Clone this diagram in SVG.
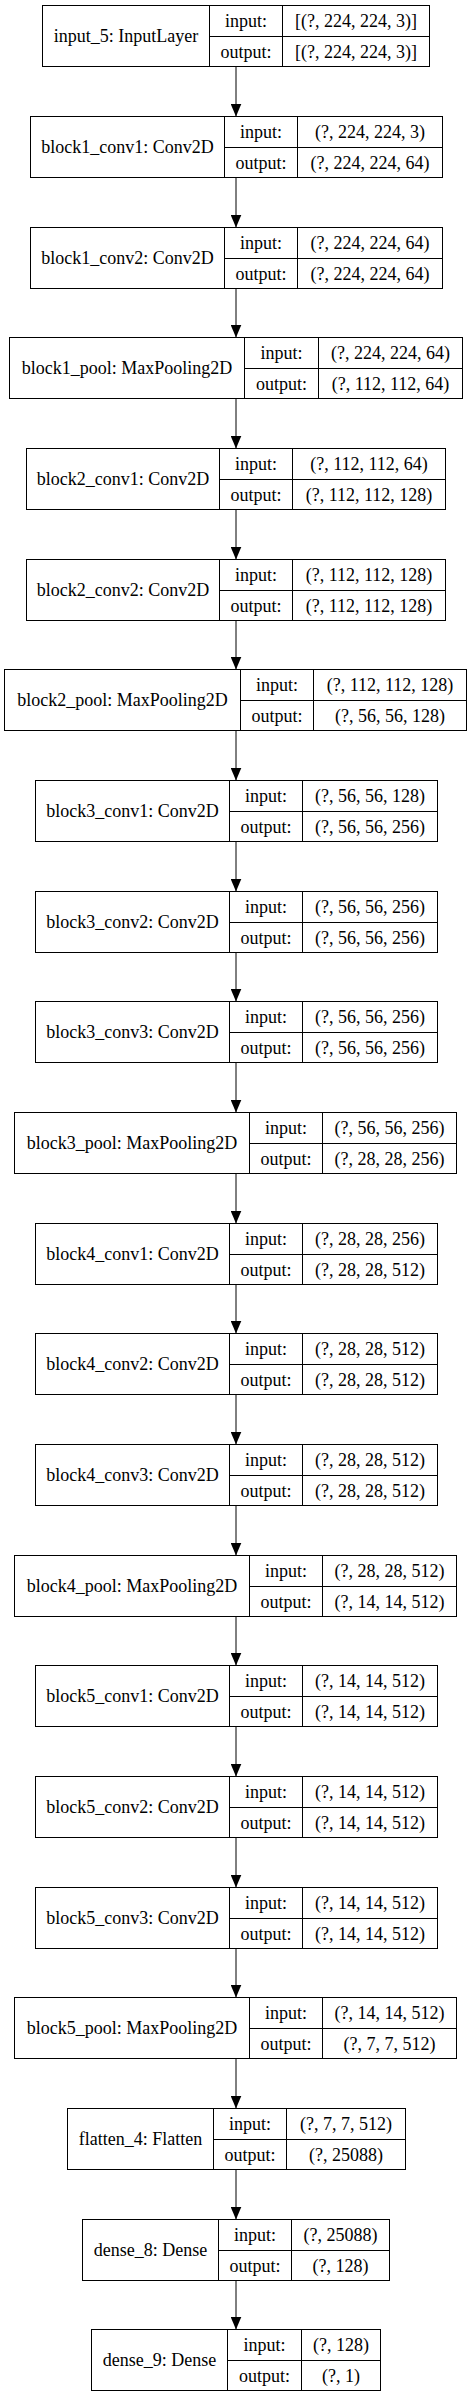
<svg xmlns="http://www.w3.org/2000/svg" width="472" height="2397" viewBox="0 0 472 2397">
<style>
.bx{fill:#fff;stroke:#000;stroke-width:1}
.ln{stroke:#000;stroke-width:1;fill:none}
text{font-family:"Liberation Serif","Times New Roman",serif;font-size:18px;fill:#000;text-anchor:middle}
.edge{stroke:#000;stroke-width:1;fill:none;marker-end:url(#ah)}
</style>
<defs>
<marker id="ah" markerUnits="userSpaceOnUse" markerWidth="13" markerHeight="11" viewBox="0 0 13 11" refX="13" refY="5.5" orient="auto">
<path d="M0,0 L13,5.5 L0,11 z" fill="#000"/>
</marker>
</defs>
<rect width="472" height="2397" fill="#fff"/>
<g id="connectors">
<line class="edge" x1="236" y1="66.5" x2="236" y2="116.5"/>
<line class="edge" x1="236" y1="177.5" x2="236" y2="227.5"/>
<line class="edge" x1="236" y1="288.5" x2="236" y2="337.5"/>
<line class="edge" x1="236" y1="398.5" x2="236" y2="448.5"/>
<line class="edge" x1="236" y1="509.5" x2="236" y2="559.5"/>
<line class="edge" x1="236" y1="620.5" x2="236" y2="669.5"/>
<line class="edge" x1="236" y1="730.5" x2="236" y2="780.5"/>
<line class="edge" x1="236" y1="841.5" x2="236" y2="891.5"/>
<line class="edge" x1="236" y1="952.5" x2="236" y2="1001.5"/>
<line class="edge" x1="236" y1="1062.5" x2="236" y2="1112.5"/>
<line class="edge" x1="236" y1="1173.5" x2="236" y2="1223.5"/>
<line class="edge" x1="236" y1="1284.5" x2="236" y2="1333.5"/>
<line class="edge" x1="236" y1="1394.5" x2="236" y2="1444.5"/>
<line class="edge" x1="236" y1="1505.5" x2="236" y2="1555.5"/>
<line class="edge" x1="236" y1="1616.5" x2="236" y2="1665.5"/>
<line class="edge" x1="236" y1="1726.5" x2="236" y2="1776.5"/>
<line class="edge" x1="236" y1="1837.5" x2="236" y2="1887.5"/>
<line class="edge" x1="236" y1="1948.5" x2="236" y2="1997.5"/>
<line class="edge" x1="236" y1="2058.5" x2="236" y2="2108.5"/>
<line class="edge" x1="236" y1="2169.5" x2="236" y2="2219.5"/>
<line class="edge" x1="236" y1="2280.5" x2="236" y2="2329.5"/>
</g>

<g id="input_5" transform="translate(0,5.5)">
<rect class="bx" x="42.5" y="0" width="387" height="61"/>
<line class="ln" x1="209.5" y1="0" x2="209.5" y2="61"/><line class="ln" x1="282.5" y1="0" x2="282.5" y2="61"/><line class="ln" x1="209.5" y1="31" x2="429.5" y2="31"/>
<text x="126" y="36">input_5: InputLayer</text>
<text x="246" y="21">input:</text><text x="246" y="52">output:</text>
<text x="356" y="21">[(?, 224, 224, 3)]</text><text x="356" y="52">[(?, 224, 224, 3)]</text>
</g>

<g id="block1_conv1" transform="translate(0,116.5)">
<rect class="bx" x="30.5" y="0" width="412" height="61"/>
<line class="ln" x1="224.5" y1="0" x2="224.5" y2="61"/><line class="ln" x1="297.5" y1="0" x2="297.5" y2="61"/><line class="ln" x1="224.5" y1="31" x2="442.5" y2="31"/>
<text x="127.5" y="36">block1_conv1: Conv2D</text>
<text x="261" y="21">input:</text><text x="261" y="52">output:</text>
<text x="370" y="21">(?, 224, 224, 3)</text><text x="370" y="52">(?, 224, 224, 64)</text>
</g>

<g id="block1_conv2" transform="translate(0,227.5)">
<rect class="bx" x="30.5" y="0" width="412" height="61"/>
<line class="ln" x1="224.5" y1="0" x2="224.5" y2="61"/><line class="ln" x1="297.5" y1="0" x2="297.5" y2="61"/><line class="ln" x1="224.5" y1="31" x2="442.5" y2="31"/>
<text x="127.5" y="36">block1_conv2: Conv2D</text>
<text x="261" y="21">input:</text><text x="261" y="52">output:</text>
<text x="370" y="21">(?, 224, 224, 64)</text><text x="370" y="52">(?, 224, 224, 64)</text>
</g>

<g id="block1_pool" transform="translate(0,337.5)">
<rect class="bx" x="9.5" y="0" width="453" height="61"/>
<line class="ln" x1="244.5" y1="0" x2="244.5" y2="61"/><line class="ln" x1="318.5" y1="0" x2="318.5" y2="61"/><line class="ln" x1="244.5" y1="31" x2="462.5" y2="31"/>
<text x="127" y="36">block1_pool: MaxPooling2D</text>
<text x="281.5" y="21">input:</text><text x="281.5" y="52">output:</text>
<text x="390.5" y="21">(?, 224, 224, 64)</text><text x="390.5" y="52">(?, 112, 112, 64)</text>
</g>

<g id="block2_conv1" transform="translate(0,448.5)">
<rect class="bx" x="26.5" y="0" width="419" height="61"/>
<line class="ln" x1="219.5" y1="0" x2="219.5" y2="61"/><line class="ln" x1="292.5" y1="0" x2="292.5" y2="61"/><line class="ln" x1="219.5" y1="31" x2="445.5" y2="31"/>
<text x="123" y="36">block2_conv1: Conv2D</text>
<text x="256" y="21">input:</text><text x="256" y="52">output:</text>
<text x="369" y="21">(?, 112, 112, 64)</text><text x="369" y="52">(?, 112, 112, 128)</text>
</g>

<g id="block2_conv2" transform="translate(0,559.5)">
<rect class="bx" x="26.5" y="0" width="419" height="61"/>
<line class="ln" x1="219.5" y1="0" x2="219.5" y2="61"/><line class="ln" x1="292.5" y1="0" x2="292.5" y2="61"/><line class="ln" x1="219.5" y1="31" x2="445.5" y2="31"/>
<text x="123" y="36">block2_conv2: Conv2D</text>
<text x="256" y="21">input:</text><text x="256" y="52">output:</text>
<text x="369" y="21">(?, 112, 112, 128)</text><text x="369" y="52">(?, 112, 112, 128)</text>
</g>

<g id="block2_pool" transform="translate(0,669.5)">
<rect class="bx" x="4.5" y="0" width="462" height="61"/>
<line class="ln" x1="240.5" y1="0" x2="240.5" y2="61"/><line class="ln" x1="313.5" y1="0" x2="313.5" y2="61"/><line class="ln" x1="240.5" y1="31" x2="466.5" y2="31"/>
<text x="122.5" y="36">block2_pool: MaxPooling2D</text>
<text x="277" y="21">input:</text><text x="277" y="52">output:</text>
<text x="390" y="21">(?, 112, 112, 128)</text><text x="390" y="52">(?, 56, 56, 128)</text>
</g>

<g id="block3_conv1" transform="translate(0,780.5)">
<rect class="bx" x="35.5" y="0" width="402" height="61"/>
<line class="ln" x1="229.5" y1="0" x2="229.5" y2="61"/><line class="ln" x1="302.5" y1="0" x2="302.5" y2="61"/><line class="ln" x1="229.5" y1="31" x2="437.5" y2="31"/>
<text x="132.5" y="36">block3_conv1: Conv2D</text>
<text x="266" y="21">input:</text><text x="266" y="52">output:</text>
<text x="370" y="21">(?, 56, 56, 128)</text><text x="370" y="52">(?, 56, 56, 256)</text>
</g>

<g id="block3_conv2" transform="translate(0,891.5)">
<rect class="bx" x="35.5" y="0" width="402" height="61"/>
<line class="ln" x1="229.5" y1="0" x2="229.5" y2="61"/><line class="ln" x1="302.5" y1="0" x2="302.5" y2="61"/><line class="ln" x1="229.5" y1="31" x2="437.5" y2="31"/>
<text x="132.5" y="36">block3_conv2: Conv2D</text>
<text x="266" y="21">input:</text><text x="266" y="52">output:</text>
<text x="370" y="21">(?, 56, 56, 256)</text><text x="370" y="52">(?, 56, 56, 256)</text>
</g>

<g id="block3_conv3" transform="translate(0,1001.5)">
<rect class="bx" x="35.5" y="0" width="402" height="61"/>
<line class="ln" x1="229.5" y1="0" x2="229.5" y2="61"/><line class="ln" x1="302.5" y1="0" x2="302.5" y2="61"/><line class="ln" x1="229.5" y1="31" x2="437.5" y2="31"/>
<text x="132.5" y="36">block3_conv3: Conv2D</text>
<text x="266" y="21">input:</text><text x="266" y="52">output:</text>
<text x="370" y="21">(?, 56, 56, 256)</text><text x="370" y="52">(?, 56, 56, 256)</text>
</g>

<g id="block3_pool" transform="translate(0,1112.5)">
<rect class="bx" x="14.5" y="0" width="442" height="61"/>
<line class="ln" x1="249.5" y1="0" x2="249.5" y2="61"/><line class="ln" x1="322.5" y1="0" x2="322.5" y2="61"/><line class="ln" x1="249.5" y1="31" x2="456.5" y2="31"/>
<text x="132" y="36">block3_pool: MaxPooling2D</text>
<text x="286" y="21">input:</text><text x="286" y="52">output:</text>
<text x="389.5" y="21">(?, 56, 56, 256)</text><text x="389.5" y="52">(?, 28, 28, 256)</text>
</g>

<g id="block4_conv1" transform="translate(0,1223.5)">
<rect class="bx" x="35.5" y="0" width="402" height="61"/>
<line class="ln" x1="229.5" y1="0" x2="229.5" y2="61"/><line class="ln" x1="302.5" y1="0" x2="302.5" y2="61"/><line class="ln" x1="229.5" y1="31" x2="437.5" y2="31"/>
<text x="132.5" y="36">block4_conv1: Conv2D</text>
<text x="266" y="21">input:</text><text x="266" y="52">output:</text>
<text x="370" y="21">(?, 28, 28, 256)</text><text x="370" y="52">(?, 28, 28, 512)</text>
</g>

<g id="block4_conv2" transform="translate(0,1333.5)">
<rect class="bx" x="35.5" y="0" width="402" height="61"/>
<line class="ln" x1="229.5" y1="0" x2="229.5" y2="61"/><line class="ln" x1="302.5" y1="0" x2="302.5" y2="61"/><line class="ln" x1="229.5" y1="31" x2="437.5" y2="31"/>
<text x="132.5" y="36">block4_conv2: Conv2D</text>
<text x="266" y="21">input:</text><text x="266" y="52">output:</text>
<text x="370" y="21">(?, 28, 28, 512)</text><text x="370" y="52">(?, 28, 28, 512)</text>
</g>

<g id="block4_conv3" transform="translate(0,1444.5)">
<rect class="bx" x="35.5" y="0" width="402" height="61"/>
<line class="ln" x1="229.5" y1="0" x2="229.5" y2="61"/><line class="ln" x1="302.5" y1="0" x2="302.5" y2="61"/><line class="ln" x1="229.5" y1="31" x2="437.5" y2="31"/>
<text x="132.5" y="36">block4_conv3: Conv2D</text>
<text x="266" y="21">input:</text><text x="266" y="52">output:</text>
<text x="370" y="21">(?, 28, 28, 512)</text><text x="370" y="52">(?, 28, 28, 512)</text>
</g>

<g id="block4_pool" transform="translate(0,1555.5)">
<rect class="bx" x="14.5" y="0" width="442" height="61"/>
<line class="ln" x1="249.5" y1="0" x2="249.5" y2="61"/><line class="ln" x1="322.5" y1="0" x2="322.5" y2="61"/><line class="ln" x1="249.5" y1="31" x2="456.5" y2="31"/>
<text x="132" y="36">block4_pool: MaxPooling2D</text>
<text x="286" y="21">input:</text><text x="286" y="52">output:</text>
<text x="389.5" y="21">(?, 28, 28, 512)</text><text x="389.5" y="52">(?, 14, 14, 512)</text>
</g>

<g id="block5_conv1" transform="translate(0,1665.5)">
<rect class="bx" x="35.5" y="0" width="402" height="61"/>
<line class="ln" x1="229.5" y1="0" x2="229.5" y2="61"/><line class="ln" x1="302.5" y1="0" x2="302.5" y2="61"/><line class="ln" x1="229.5" y1="31" x2="437.5" y2="31"/>
<text x="132.5" y="36">block5_conv1: Conv2D</text>
<text x="266" y="21">input:</text><text x="266" y="52">output:</text>
<text x="370" y="21">(?, 14, 14, 512)</text><text x="370" y="52">(?, 14, 14, 512)</text>
</g>

<g id="block5_conv2" transform="translate(0,1776.5)">
<rect class="bx" x="35.5" y="0" width="402" height="61"/>
<line class="ln" x1="229.5" y1="0" x2="229.5" y2="61"/><line class="ln" x1="302.5" y1="0" x2="302.5" y2="61"/><line class="ln" x1="229.5" y1="31" x2="437.5" y2="31"/>
<text x="132.5" y="36">block5_conv2: Conv2D</text>
<text x="266" y="21">input:</text><text x="266" y="52">output:</text>
<text x="370" y="21">(?, 14, 14, 512)</text><text x="370" y="52">(?, 14, 14, 512)</text>
</g>

<g id="block5_conv3" transform="translate(0,1887.5)">
<rect class="bx" x="35.5" y="0" width="402" height="61"/>
<line class="ln" x1="229.5" y1="0" x2="229.5" y2="61"/><line class="ln" x1="302.5" y1="0" x2="302.5" y2="61"/><line class="ln" x1="229.5" y1="31" x2="437.5" y2="31"/>
<text x="132.5" y="36">block5_conv3: Conv2D</text>
<text x="266" y="21">input:</text><text x="266" y="52">output:</text>
<text x="370" y="21">(?, 14, 14, 512)</text><text x="370" y="52">(?, 14, 14, 512)</text>
</g>

<g id="block5_pool" transform="translate(0,1997.5)">
<rect class="bx" x="14.5" y="0" width="442" height="61"/>
<line class="ln" x1="249.5" y1="0" x2="249.5" y2="61"/><line class="ln" x1="322.5" y1="0" x2="322.5" y2="61"/><line class="ln" x1="249.5" y1="31" x2="456.5" y2="31"/>
<text x="132" y="36">block5_pool: MaxPooling2D</text>
<text x="286" y="21">input:</text><text x="286" y="52">output:</text>
<text x="389.5" y="21">(?, 14, 14, 512)</text><text x="389.5" y="52">(?, 7, 7, 512)</text>
</g>

<g id="flatten_4" transform="translate(0,2108.5)">
<rect class="bx" x="67.5" y="0" width="338" height="61"/>
<line class="ln" x1="213.5" y1="0" x2="213.5" y2="61"/><line class="ln" x1="286.5" y1="0" x2="286.5" y2="61"/><line class="ln" x1="213.5" y1="31" x2="405.5" y2="31"/>
<text x="140.5" y="36">flatten_4: Flatten</text>
<text x="250" y="21">input:</text><text x="250" y="52">output:</text>
<text x="346" y="21">(?, 7, 7, 512)</text><text x="346" y="52">(?, 25088)</text>
</g>

<g id="dense_8" transform="translate(0,2219.5)">
<rect class="bx" x="82.5" y="0" width="307" height="61"/>
<line class="ln" x1="218.5" y1="0" x2="218.5" y2="61"/><line class="ln" x1="291.5" y1="0" x2="291.5" y2="61"/><line class="ln" x1="218.5" y1="31" x2="389.5" y2="31"/>
<text x="150.5" y="36">dense_8: Dense</text>
<text x="255" y="21">input:</text><text x="255" y="52">output:</text>
<text x="340.5" y="21">(?, 25088)</text><text x="340.5" y="52">(?, 128)</text>
</g>

<g id="dense_9" transform="translate(0,2329.5)">
<rect class="bx" x="91.5" y="0" width="289" height="61"/>
<line class="ln" x1="227.5" y1="0" x2="227.5" y2="61"/><line class="ln" x1="301.5" y1="0" x2="301.5" y2="61"/><line class="ln" x1="227.5" y1="31" x2="380.5" y2="31"/>
<text x="159.5" y="36">dense_9: Dense</text>
<text x="264.5" y="21">input:</text><text x="264.5" y="52">output:</text>
<text x="341" y="21">(?, 128)</text><text x="341" y="52">(?, 1)</text>
</g>
</svg>
